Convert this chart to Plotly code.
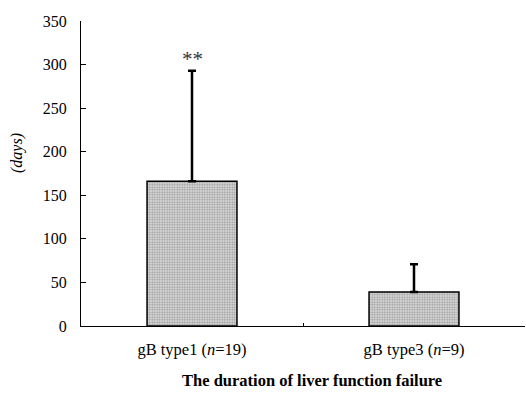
import plotly.graph_objects as go

categories = ["gB type1 (<i>n</i>=19)", "gB type3 (<i>n</i>=9)"]
means = [166, 39]
sd_upper = [127, 32]
y_ticks = [0, 50, 100, 150, 200, 250, 300, 350]

fig = go.Figure()
fig.add_trace(go.Bar(
    x=categories, y=means, width=0.405,
    marker=dict(
        color="#bdbdbd",
        line=dict(color="black", width=1.5),
        pattern=dict(shape=".", size=2.5, solidity=0.5, fgcolor="#555555", bgcolor="#e6e6e6"),
    ),
    error_y=dict(type="data", symmetric=False, array=sd_upper, arrayminus=[0, 0],
                 color="black", thickness=2.5, width=4),
    showlegend=False,
))

fig.add_annotation(x=categories[0], y=means[0] + sd_upper[0], text="**", showarrow=False,
                   yanchor="bottom", yshift=-2, font=dict(family="Liberation Serif", size=21, color="#333"))
fig.add_annotation(x=-0.169, y=0.567, xref="paper", yref="paper", text="<i>(days)</i>", textangle=-90,
                   showarrow=False, font=dict(family="Liberation Serif", size=16, color="black"))
fig.add_annotation(x=0.52, y=-0.18, xref="paper", yref="paper", yanchor="middle",
                   text="<b>The duration of liver function failure</b>",
                   showarrow=False, font=dict(family="Liberation Serif", size=16.5, color="black"))

fig.update_layout(
    width=526, height=406, margin=dict(l=81, r=1, t=21, b=80),
    plot_bgcolor="white", paper_bgcolor="white",
    font=dict(family="Liberation Serif", size=16, color="black"),
    xaxis=dict(range=[-0.5, 1.5], showline=True, linecolor="black", linewidth=1,
               tickson="boundaries", ticks="inside", ticklen=3, tickcolor="black",
               showgrid=False, tickfont=dict(size=16.5), ticklabelstandoff=8),
    yaxis=dict(range=[0, 350], tickvals=y_ticks, showline=True, linecolor="black", linewidth=1,
               ticks="inside", ticklen=5, tickcolor="black", showgrid=False, zeroline=False,
               tickfont=dict(size=16), ticklabelstandoff=10),
)
fig.write_html("out.html")
